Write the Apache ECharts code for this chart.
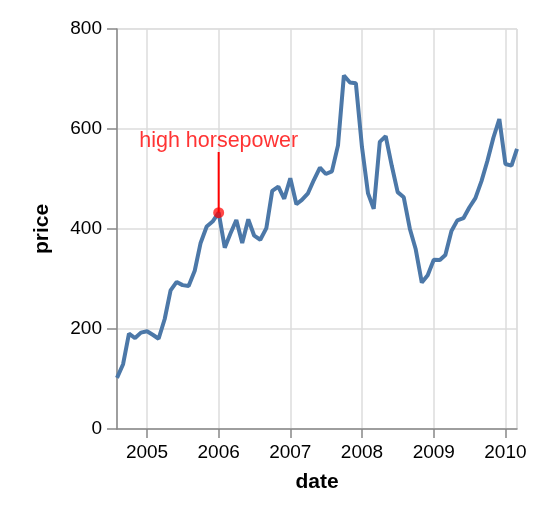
<!DOCTYPE html>
<html>
<head>
<meta charset="utf-8">
<script src="https://cdn.jsdelivr.net/npm/echarts@6/dist/echarts.min.js"></script>
<style>
  html, body { margin: 0; padding: 0; background: #fff; }
  #chart { width: 548px; height: 510px; }
</style>
</head>
<body>
<div id="chart"></div>
<script>
// monthly closing price, Aug 2004 .. Mar 2010
const dates = [
  '2004-08-01', '2004-09-01', '2004-10-01', '2004-11-01', '2004-12-01',
  '2005-01-01', '2005-02-01', '2005-03-01', '2005-04-01', '2005-05-01', '2005-06-01',
  '2005-07-01', '2005-08-01', '2005-09-01', '2005-10-01', '2005-11-01', '2005-12-01',
  '2006-01-01', '2006-02-01', '2006-03-01', '2006-04-01', '2006-05-01', '2006-06-01',
  '2006-07-01', '2006-08-01', '2006-09-01', '2006-10-01', '2006-11-01', '2006-12-01',
  '2007-01-01', '2007-02-01', '2007-03-01', '2007-04-01', '2007-05-01', '2007-06-01',
  '2007-07-01', '2007-08-01', '2007-09-01', '2007-10-01', '2007-11-01', '2007-12-01',
  '2008-01-01', '2008-02-01', '2008-03-01', '2008-04-01', '2008-05-01', '2008-06-01',
  '2008-07-01', '2008-08-01', '2008-09-01', '2008-10-01', '2008-11-01', '2008-12-01',
  '2009-01-01', '2009-02-01', '2009-03-01', '2009-04-01', '2009-05-01', '2009-06-01',
  '2009-07-01', '2009-08-01', '2009-09-01', '2009-10-01', '2009-11-01', '2009-12-01',
  '2010-01-01', '2010-02-01', '2010-03-01'
];
const prices = [
  102.37, 129.6, 190.64, 181.98, 192.79,
  195.62, 187.99, 180.51, 220, 277.27, 294.15,
  287.76, 286, 316.46, 372.14, 404.91, 414.86,
  432.66, 362.62, 390, 417.94, 371.82, 419.33,
  386.6, 378.53, 401.9, 476.39, 484.81, 460.48,
  501.5, 449.45, 458.16, 471.38, 497.91, 522.7,
  510, 515.25, 567.27, 707, 693, 691.48,
  564.3, 471.18, 440.47, 574.29, 585.8, 526.42,
  473.75, 463.29, 400.52, 359.36, 292.96, 307.65,
  338.53, 337.99, 348.06, 395.97, 417.23, 421.59,
  443.05, 461.67, 495.85, 536.12, 583, 619.98,
  529.94, 526.8, 560.19
];
const yTicks = [0, 200, 400, 600, 800];

// annotation
const noteDate = '2006-01-01';
const notePrice = 432.66;
const noteTop = 554;
const noteText = 'high horsepower';

const chart = echarts.init(document.getElementById('chart'));

const axisGray = '#888';
const gridGray = '#ddd';

chart.setOption({
  animation: false,
  grid: {
    left: 117,
    top: 29,
    width: 400,
    height: 400,
    show: true,
    borderColor: gridGray,
    borderWidth: 1,
    backgroundColor: 'transparent'
  },
  xAxis: {
    type: 'time',
    min: dates[0],
    max: dates[dates.length - 1],
    minInterval: 365 * 24 * 3600 * 1000,
    name: 'date',
    nameLocation: 'middle',
    nameGap: 43,
    nameTextStyle: { fontSize: 21, fontWeight: 'bold', color: '#000', fontFamily: 'Liberation Sans' },
    axisLine: { lineStyle: { color: axisGray, width: 1.5 } },
    axisTick: { show: true, length: 9, lineStyle: { color: axisGray, width: 1.5 } },
    axisLabel: {
      formatter: '{yyyy}',
      fontSize: 19,
      color: '#000',
      margin: 14,
      fontFamily: 'Liberation Sans',
      showMinLabel: false,
      showMaxLabel: false
    },
    splitLine: { show: true, lineStyle: { color: gridGray, width: 1.5 } },
    minorTick: { show: false }
  },
  yAxis: {
    type: 'value',
    min: yTicks[0],
    max: yTicks[yTicks.length - 1],
    interval: 200,
    name: 'price',
    nameLocation: 'middle',
    nameRotate: 90,
    nameGap: 64,
    nameTextStyle: { fontSize: 21, fontWeight: 'bold', color: '#000', fontFamily: 'Liberation Sans' },
    axisLine: { show: true, lineStyle: { color: axisGray, width: 1.5 } },
    axisTick: { show: true, length: 10, lineStyle: { color: axisGray, width: 1.5 } },
    axisLabel: { fontSize: 19, color: '#000', margin: 15, fontFamily: 'Liberation Sans' },
    splitLine: { show: true, lineStyle: { color: gridGray, width: 1.5 } }
  },
  series: [
    {
      type: 'line',
      data: dates.map((d, i) => [d, prices[i]]),
      showSymbol: false,
      lineStyle: { color: '#4c78a8', width: 4 },
      itemStyle: { color: '#4c78a8' },
      z: 2
    },
    {
      type: 'line',
      data: [[noteDate, notePrice], [noteDate, noteTop]],
      showSymbol: false,
      lineStyle: { color: '#ff0000', width: 2 },
      z: 3
    },
    {
      type: 'scatter',
      data: [[noteDate, notePrice]],
      symbolSize: 11,
      itemStyle: { color: '#ff0000', opacity: 0.72 },
      z: 4
    },
    {
      type: 'scatter',
      data: [[noteDate, noteTop]],
      symbolSize: 0,
      label: {
        show: true,
        position: 'top',
        distance: 0,
        formatter: noteText,
        color: '#ff0000',
        fontSize: 21.5,
        fontFamily: 'Liberation Sans'
      },
      z: 4
    }
  ]
});
</script>
</body>
</html>
